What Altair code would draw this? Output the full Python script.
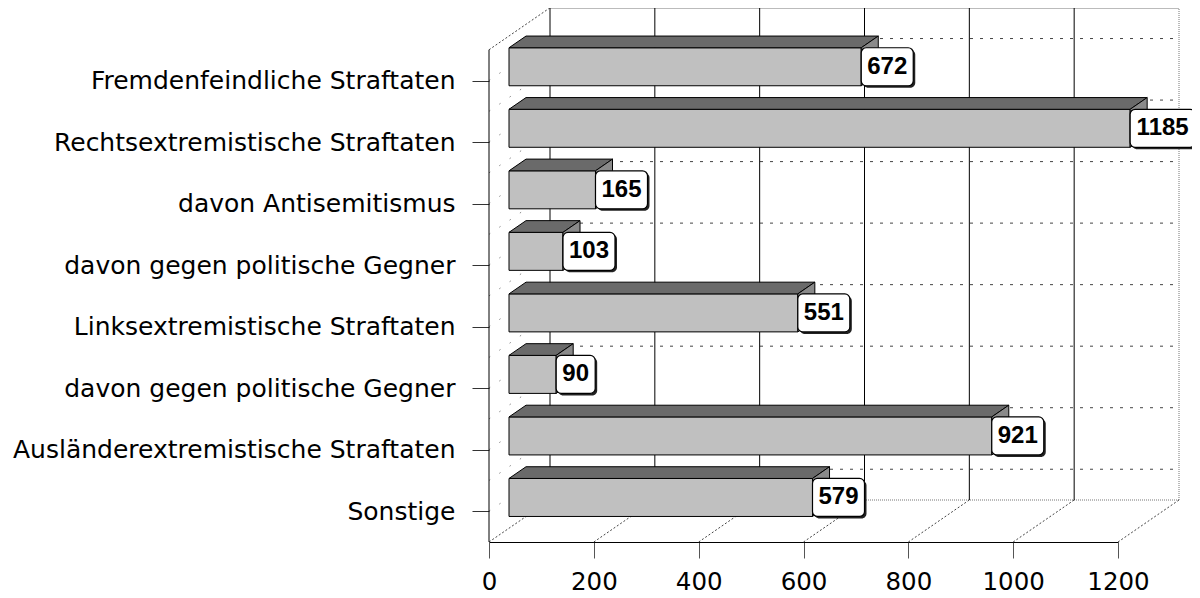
import altair as alt
import pandas as pd

# ---- data ----
categories = [
    "Fremdenfeindliche Straftaten",
    "Rechtsextremistische Straftaten",
    "davon Antisemitismus",
    "davon gegen politische Gegner",
    "Linksextremistische Straftaten",
    "davon gegen politische Gegner",
    "Ausländerextremistische Straftaten",
    "Sonstige",
]
values = [672, 1185, 165, 103, 551, 90, 921, 579]
x_ticks = [0, 200, 400, 600, 800, 1000, 1200]

# ---- layout / 3-D geometry constants ----
W, H = 629, 534
XMAX = 1200
R0, R1 = -0.5, 7.5          # floor / top of the left wall (row units)
YTOP = 8.179
PXX = W / XMAX
PXY = H / (YTOP - R0)
DX = 61 / PXX               # full depth shift in x units
DY = 42 / PXY               # full depth shift in row units
D0, D1 = 0.328, 0.607       # bar front / back depth
HALF = 19 / PXY             # half bar height

n = len(categories)
rows = [n - 1 - i for i in range(n)]


def P(v, r, d):
    return v + d * DX, r + d * DY


def seg(a, b):
    return {"x": a[0], "y": a[1], "x2": b[0], "y2": b[1]}


# ---- wall / floor lines ----
solid = [seg(P(v, R0, 1), P(v, R1, 1)) for v in x_ticks[:-1]]
solid.append(seg(P(0, R1, 1), P(XMAX, R1, 1)))
solid.append(seg(P(0, R0, 0), P(0, R1, 0)))
fine_dot = [seg(P(XMAX, R0, 1), P(XMAX, R1, 1)), seg(P(0, R0, 1), P(XMAX, R0, 1))]
diag = [seg(P(v, R0, 0), P(v, R0, 1)) for v in x_ticks] + [seg(P(0, R1, 0), P(0, R1, 1))]
back_h = [seg(P(0, r, 1), P(XMAX, r, 1)) for r in rows]
left_d = [seg(P(0, r, 0), P(0, r, 1)) for r in rows] + \
         [seg(P(0, r + 0.5, 0), P(0, r + 0.5, 1)) for r in rows[1:]]

# ---- bars ----
front, top, side, box, lab = [], [], [], [], []
for i, (v, r) in enumerate(zip(values, rows)):
    x0, _ = P(0, r, D0)
    x1, yc = P(v, r, D0)
    front.append({"x": x0, "x2": x1, "y": yc - HALF, "y2": yc + HALF})
    for d in (D0, D1):
        a, yy = P(0, r + HALF, d)
        b, _ = P(v, r + HALF, d)
        top.append({"id": i, "y": yy, "x": a, "x2": b})
        xx, ylo = P(v, r - HALF, d)
        side.append({"id": i, "x": xx, "y": ylo, "y2": ylo + 2 * HALF})
    bw = (13 * len(str(v)) + 13) / PXX
    box.append({"x": x1, "x2": x1 + bw, "y": yc - HALF, "y2": yc + HALF})
    lab.append({"x": x1 + bw / 2, "y": yc, "t": str(v)})

xs = alt.Scale(domain=[0, XMAX], nice=False, zero=False)
ys = alt.Scale(domain=[R0, YTOP], nice=False, zero=False)
FONT = "DejaVu Sans"
xaxis = alt.Axis(values=x_ticks, format="d", title=None, grid=False, tickSize=16, tickColor="#555",
                 domainColor="black", labelFont=FONT, labelFontSize=24.5, labelColor="black",
                 labelPadding=12, labelFlush=False, labelOverlap=False)
lab_js = "[" + ",".join("'" + categories[n - 1 - r] + "'" for r in range(n)) + "]"
yaxis = alt.Axis(values=list(range(n)), title=None, grid=False, domain=False, tickSize=17,
                 tickColor="#333", labelFont=FONT, labelFontSize=25, labelColor="black",
                 labelPadding=17, labelLimit=600, labelExpr=lab_js + "[datum.value]")

X = alt.X("x:Q", scale=xs, axis=xaxis)
Y = alt.Y("y:Q", scale=ys, axis=yaxis)


def rules(data, **kw):
    return alt.Chart(pd.DataFrame(data)).mark_rule(**kw).encode(
        x=X, y=Y, x2="x2:Q", y2="y2:Q")


layers = [
    rules(left_d, color="#888", strokeWidth=1, strokeDash=[1.5, 11]),
    rules(back_h, color="#444", strokeWidth=1, strokeDash=[3, 7]),
    rules(fine_dot, color="#777", strokeWidth=1, strokeDash=[1, 1]),
    rules(diag, color="#444", strokeWidth=1, strokeDash=[2, 2]),
    rules(solid, color="black", strokeWidth=1),
    alt.Chart(pd.DataFrame(front)).mark_rect(fill="#c0c0c0", stroke="black", strokeWidth=1).encode(
        x=X, x2="x2:Q", y=Y, y2="y2:Q"),
    alt.Chart(pd.DataFrame(top)).mark_area(orient="horizontal", fill="#6a6a6a", stroke="black",
                                           strokeWidth=1, opacity=1).encode(
        y=Y, x=X, x2="x2:Q", detail="id:N"),
    alt.Chart(pd.DataFrame(side)).mark_area(orient="vertical", fill="#8a8a8a", stroke="black",
                                            strokeWidth=1, opacity=1).encode(
        x=X, y=Y, y2="y2:Q", detail="id:N"),
    alt.Chart(pd.DataFrame(box)).mark_rect(fill="#222", cornerRadius=5, xOffset=2, x2Offset=2,
                                           yOffset=2, y2Offset=2).encode(
        x=X, x2="x2:Q", y=Y, y2="y2:Q"),
    alt.Chart(pd.DataFrame(box)).mark_rect(fill="white", stroke="black", strokeWidth=1.2,
                                           cornerRadius=5).encode(
        x=X, x2="x2:Q", y=Y, y2="y2:Q"),
    alt.Chart(pd.DataFrame(lab)).mark_text(
        font="Liberation Sans", fontWeight="bold", fontSize=24, color="black",
        baseline="middle", align="center").encode(
        x=X, y=Y, text="t:N"),
]

chart = alt.layer(*layers).properties(
    width=W, height=H,
    autosize=alt.AutoSizeParams(type="none"),
    padding={"left": 481, "top": 0, "right": 74, "bottom": 56},
    background="white",
).configure_view(stroke=None)

chart.save("out.html", embed_options={"renderer": "svg", "actions": False})
